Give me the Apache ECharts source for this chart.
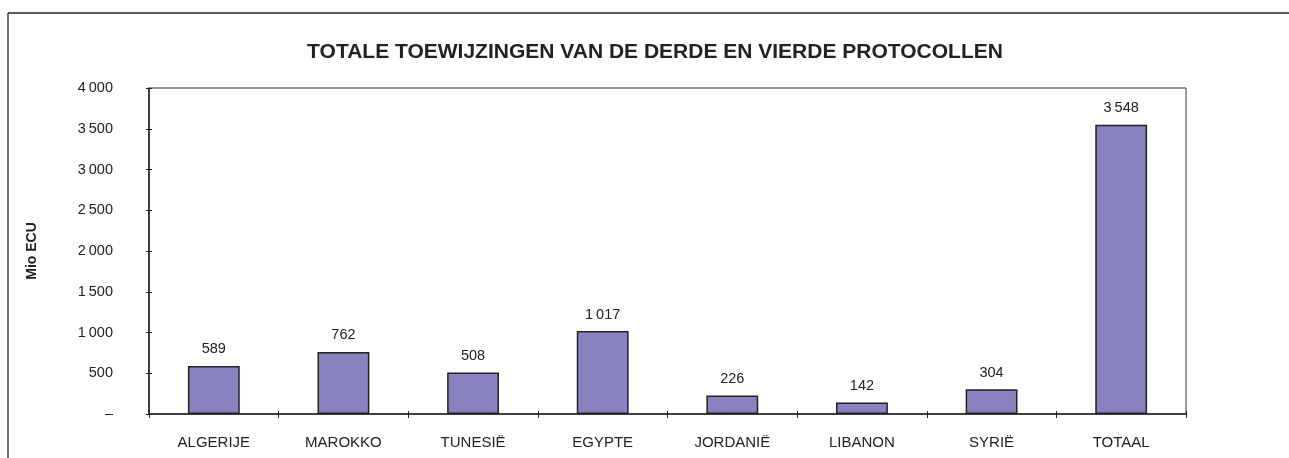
<!DOCTYPE html>
<html>
<head>
<meta charset="utf-8">
<script src="https://cdn.jsdelivr.net/npm/echarts@6/dist/echarts.min.js"></script>
<style>
html,body{margin:0;padding:0;background:#fff;}
#chart{width:1289px;height:458px;}
</style>
</head>
<body>
<div id="chart"></div>
<script>
const titleText = 'TOTALE TOEWIJZINGEN VAN DE DERDE EN VIERDE PROTOCOLLEN';
const yAxisName = 'Mio ECU';
const categories = ['ALGERIJE', 'MAROKKO', 'TUNESIË', 'EGYPTE', 'JORDANIË', 'LIBANON', 'SYRIË', 'TOTAAL'];
const values = [589, 762, 508, 1017, 226, 142, 304, 3548];

function fmt(v) {
  if (v === 0) return '–';
  const s = String(Math.round(v));
  return s.replace(/\B(?=(\d{3})+(?!\d))/g, '\u2009');
}

const chart = echarts.init(document.getElementById('chart'), null, {renderer: 'canvas'});
const textColor = '#222';
const lineColor = '#222';
const font = 'Liberation Sans, Arial, sans-serif';

chart.setOption({
  animation: false,
  backgroundColor: '#fff',
  title: {
    text: titleText,
    left: 650, top: 37, textAlign: 'center',
    textStyle: {fontFamily: font, fontSize: 21, fontWeight: 'bold', color: textColor}
  },
  graphic: [
    {type: 'line', shape: {x1: 8, y1: 13, x2: 1289, y2: 13}, style: {stroke: '#222', lineWidth: 1.3}},
    {type: 'line', shape: {x1: 8, y1: 13, x2: 8, y2: 458}, style: {stroke: '#222', lineWidth: 1.3}}
  ],
  grid: {
    left: 149, right: 103, top: 88, bottom: 44,
    show: true, borderColor: '#333', borderWidth: 1, backgroundColor: 'transparent'
  },
  xAxis: [{
    type: 'category',
    data: categories,
    axisLine: {lineStyle: {color: lineColor, width: 1.5}},
    axisTick: {show: true, length: 4, lineStyle: {color: lineColor}},
    axisLabel: {fontFamily: font, fontSize: 15, color: textColor, margin: 21}
  }, {
    type: 'category',
    data: categories,
    position: 'bottom',
    axisLine: {show: false},
    axisTick: {show: true, inside: true, length: 3, lineStyle: {color: lineColor}},
    axisLabel: {show: false}
  }],
  yAxis: [{
    type: 'value',
    min: 0, max: 4000, interval: 500,
    name: yAxisName,
    nameLocation: 'middle',
    nameGap: 110,
    nameTextStyle: {fontFamily: font, fontSize: 14, fontWeight: 'bold', color: textColor},
    axisLine: {show: true, lineStyle: {color: lineColor, width: 1.5}},
    axisTick: {show: true, length: 3, lineStyle: {color: lineColor}},
    splitLine: {show: false},
    axisLabel: {fontFamily: font, fontSize: 14.5, color: textColor, margin: 36, formatter: fmt}
  }, {
    type: 'value',
    min: 0, max: 4000, interval: 500,
    position: 'left',
    axisLine: {show: false},
    axisTick: {show: true, inside: true, length: 3, lineStyle: {color: lineColor}},
    splitLine: {show: false},
    axisLabel: {show: false}
  }],
  series: [{
    type: 'bar',
    data: values,
    barWidth: '40%',
    itemStyle: {color: '#8882BE', borderColor: '#222', borderWidth: 1.5},
    label: {
      show: true, position: 'top', distance: 9,
      fontFamily: font, fontSize: 14.5, color: textColor,
      formatter: p => fmt(p.value)
    }
  }]
});
</script>
</body>
</html>
